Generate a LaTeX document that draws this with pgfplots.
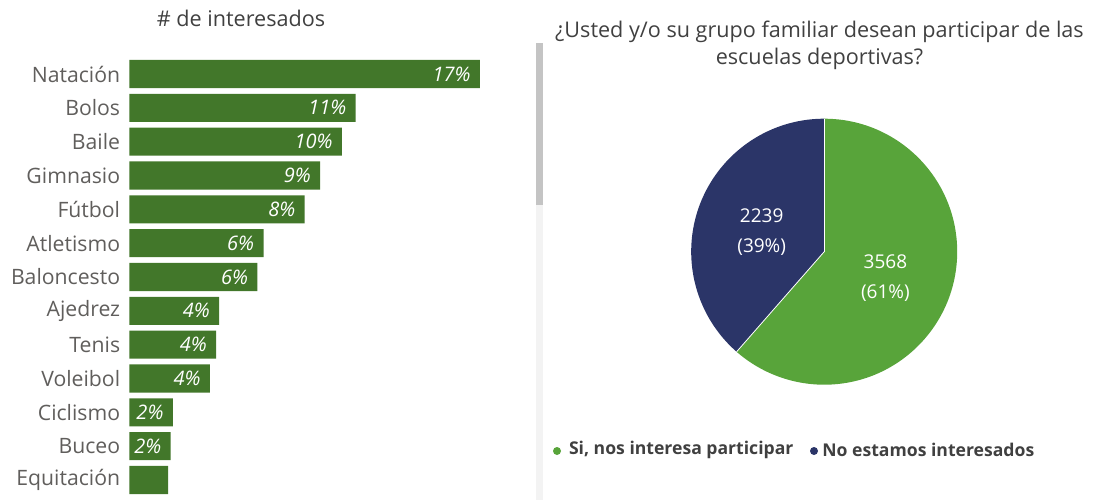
\documentclass[border=0pt]{standalone}
\usepackage{pgfplots}
\pgfplotsset{compat=1.18}
\usepackage{pgfplotstable}
\usepackage{fontspec}
\setmainfont{Open Sans}

\definecolor{bargreen}{RGB}{66,119,42}
\definecolor{piegreen}{RGB}{88,164,58}
\definecolor{pienavy}{RGB}{43,53,104}
\definecolor{labgrey}{RGB}{96,94,92}
\definecolor{titlegrey}{RGB}{64,64,64}
\definecolor{scrollgrey}{RGB}{196,196,196}
\definecolor{trackgrey}{RGB}{243,243,243}

\pgfplotstableread{
idx val lab
0 17.0 17\%
1 10.97 11\%
2 10.3 10\%
3 9.25 9\%
4 8.5 8\%
5 6.5 6\%
6 6.2 6\%
7 4.35 4\%
8 4.2 4\%
9 3.9 4\%
10 2.1 2\%
11 2.0 2\%
12 1.87 {}
}\bardata

\pgfmathsetmacro{\vsi}{3568}
\pgfmathsetmacro{\vno}{2239}
\pgfmathsetmacro{\fracsi}{\vsi/(\vsi+\vno)}
\pgfmathsetmacro{\angsi}{360*\fracsi}
\pgfmathsetmacro{\angno}{360-\angsi}

\begin{document}
\begin{tikzpicture}
\path[use as bounding box] (0,0) rectangle (550pt,250pt);

% scrollbar
\fill[trackgrey] (268pt,0pt) rectangle (271.5pt,147.5pt);
\fill[scrollgrey] (268pt,147.5pt) rectangle (271.5pt,228.5pt);

% bar chart title
\node[text=titlegrey, font=\fontsize{10.8}{12}\selectfont] at (120.5pt,241pt) {\# de interesados};

\begin{axis}[
  at={(64.75pt,1.55pt)}, anchor=south west,
  scale only axis, width=175.25pt, height=219.9pt,
  xmin=0, xmax=17, ymin=-0.5, ymax=12.5, y dir=reverse,
  xbar, bar width=0.83, bar shift=0pt,
  axis line style={draw=none},
  xtick=\empty,
  ytick={0,...,12},
  yticklabels={Natación,Bolos,Baile,Gimnasio,Fútbol,Atletismo,Baloncesto,Ajedrez,Tenis,Voleibol\hspace{3.5pt},Ciclismo,Buceo,Equitación\hspace{3.5pt}},
  major tick length=0pt,
  yticklabel shift=4.5pt,
  yticklabel style={font=\fontsize{10.6}{12}\selectfont, text=labgrey, inner sep=0pt},
  nodes near coords, point meta=explicit symbolic,
  every node near coord/.append style={anchor=east, xshift=-4.5pt, inner sep=0pt,
     font=\fontsize{10}{12}\selectfont\itshape, text=white},
  clip=false,
]
\addplot[fill=bargreen, draw=none] table[x=val, y=idx, meta=lab]{\bardata};
\end{axis}

% pie title
\node[text=titlegrey, font=\fontsize{10.8}{13.5}\selectfont, align=center] at (409.75pt,227.5pt)
  {¿Usted y/o su grupo familiar desean participar de las\\escuelas deportivas?};

\begin{axis}[
  at={(412.1pt,124.15pt)}, anchor=center,
  scale only axis, width=133pt, height=133pt,
  xmin=-1, xmax=1, ymin=-1, ymax=1,
  hide axis, clip=false,
]
\fill[piegreen] (axis cs:0,0) -- (axis cs:0,1) arc[start angle=90, delta angle=-\angsi, radius=66.5pt] -- cycle;
\fill[pienavy] (axis cs:0,0) -- (axis cs:0,1) arc[start angle=90, delta angle=\angno, radius=66.5pt] -- cycle;
\draw[white, line width=0.4pt] (axis cs:0,0) -- (axis cs:0,1);
\draw[white, line width=0.4pt] (axis cs:0,0) -- ++({90+\angno}:66.5pt);
\node[text=white, align=center, font=\fontsize{9.5}{15}\selectfont] at (axis cs:-0.47,0.15) {2239\\(39\%)};
\node[text=white, align=center, font=\fontsize{9.5}{15}\selectfont] at (axis cs:0.46,-0.195) {3568\\(61\%)};
\end{axis}

% legend
\fill[piegreen] (278.5pt,24.5pt) circle (2pt);
\node[anchor=west, inner sep=0pt, text=titlegrey, font=\fontsize{8.8}{10}\selectfont\bfseries] at (284.3pt,25pt) {Si, nos interesa participar};
\fill[pienavy] (407pt,24.5pt) circle (2pt);
\node[anchor=west, inner sep=0pt, text=titlegrey, font=\fontsize{8.8}{10}\selectfont\bfseries] at (411pt,25pt) {No estamos interesados};
\end{tikzpicture}
\end{document}
